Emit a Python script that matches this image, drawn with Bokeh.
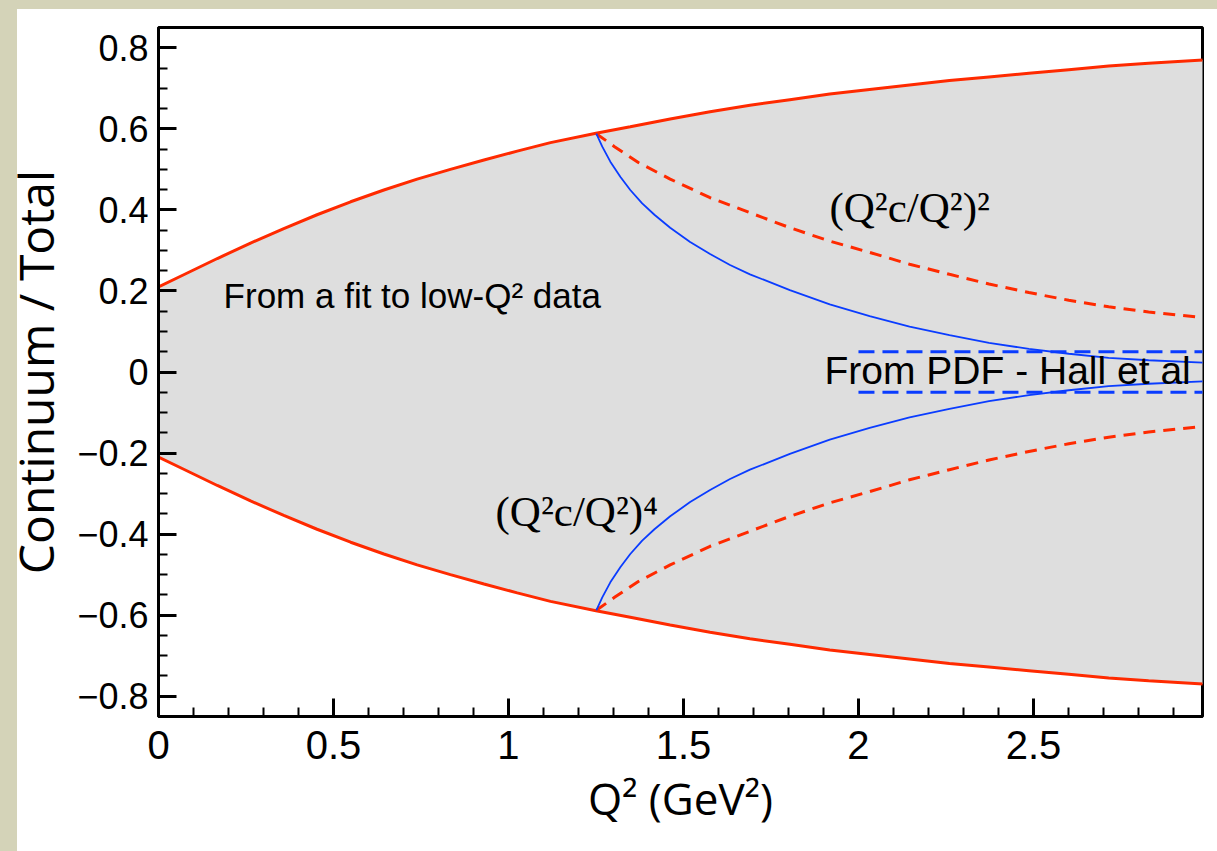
from bokeh.plotting import figure
from bokeh.models import Range1d, FixedTicker, Label
from bokeh.embed import file_html
from bokeh.resources import INLINE

# ---- data -------------------------------------------------------------
# band from a fit to low-Q^2 data (upper / lower envelope)
fit_q2 = [0.0, 0.072, 0.168, 0.263, 0.358, 0.453, 0.549, 0.644, 0.739, 0.834,
          0.930, 1.025, 1.120, 1.250, 1.348, 1.462, 1.576, 1.690, 1.804, 1.918,
          2.032, 2.146, 2.260, 2.373, 2.487, 2.601, 2.715, 2.829, 2.985]
fit_upper = [0.210, 0.240, 0.280, 0.318, 0.354, 0.388, 0.420, 0.449, 0.476, 0.500,
             0.523, 0.545, 0.566, 0.589, 0.605, 0.624, 0.642, 0.658, 0.672, 0.686,
             0.697, 0.708, 0.719, 0.728, 0.737, 0.746, 0.755, 0.762, 0.770]
fit_lower = [-0.210, -0.240, -0.280, -0.318, -0.354, -0.388, -0.420, -0.449, -0.476, -0.500,
             -0.523, -0.545, -0.566, -0.589, -0.605, -0.624, -0.642, -0.658, -0.672, -0.686,
             -0.697, -0.708, -0.719, -0.728, -0.737, -0.746, -0.755, -0.762, -0.770]

# (Q2c/Q2)^2 fall-off (red dashed)
pow2_q2 = [1.251, 1.303, 1.371, 1.462, 1.576, 1.690, 1.804, 1.918, 2.032, 2.146,
           2.260, 2.373, 2.487, 2.601, 2.715, 2.829, 2.985]
pow2_upper = [0.588, 0.556, 0.517, 0.476, 0.430, 0.393, 0.356, 0.323, 0.295, 0.266,
              0.241, 0.217, 0.196, 0.177, 0.161, 0.148, 0.134]
pow2_lower = [-0.588, -0.556, -0.517, -0.476, -0.430, -0.393, -0.356, -0.323, -0.295, -0.266,
              -0.241, -0.217, -0.196, -0.177, -0.161, -0.148, -0.134]

# (Q2c/Q2)^4 fall-off (blue solid)
pow4_q2 = [1.251, 1.268, 1.291, 1.320, 1.348, 1.382, 1.417, 1.462, 1.519, 1.576,
           1.633, 1.690, 1.804, 1.918, 2.032, 2.146, 2.260, 2.373, 2.487, 2.601,
           2.715, 2.829, 2.985]
pow4_upper = [0.588, 0.556, 0.519, 0.481, 0.449, 0.416, 0.388, 0.356, 0.321, 0.291,
              0.264, 0.241, 0.202, 0.167, 0.138, 0.112, 0.091, 0.072, 0.057, 0.045,
              0.035, 0.029, 0.023]
pow4_lower = [-0.588, -0.556, -0.519, -0.481, -0.449, -0.416, -0.388, -0.356, -0.321, -0.291,
              -0.264, -0.241, -0.202, -0.167, -0.138, -0.112, -0.091, -0.072, -0.057, -0.045,
              -0.035, -0.029, -0.023]

# from PDF - Hall et al (blue dashed band)
pdf_q2 = [2.0, 2.985]
pdf_upper = [0.05, 0.05]
pdf_lower = [-0.05, -0.05]

x_ticks = [0, 0.5, 1, 1.5, 2, 2.5]
x_labels = ["0", "0.5", "1", "1.5", "2", "2.5"]
y_ticks = [-0.8, -0.6, -0.4, -0.2, 0, 0.2, 0.4, 0.6, 0.8]
y_labels = ["\u22120.8", "\u22120.6", "\u22120.4", "\u22120.2", "0", "0.2", "0.4", "0.6", "0.8"]

# ---- styling -------------------------------------------------------------
RED = "#ff2a00"
BLUE = "#0a3cff"
BAND = "#dedede"
PAPER = "#d4d3b8"

p = figure(width=1217, height=851,
           x_range=Range1d(0, 2.983), y_range=Range1d(-0.85, 0.85),
           output_backend="svg", toolbar_location=None,
           min_border_left=158, min_border_top=27, min_border_right=15,
           min_border_bottom=135)
p.border_fill_color = None
p.background_fill_color = "white"
p.outline_line_color = "black"
p.outline_line_width = 3
p.xgrid.visible = False
p.ygrid.visible = False

p.varea(x=fit_q2, y1=fit_lower, y2=fit_upper, fill_color=BAND)

p.line(fit_q2, fit_upper, line_color=RED, line_width=3)
p.line(fit_q2, fit_lower, line_color=RED, line_width=3)
p.line(pow2_q2, pow2_upper, line_color=RED, line_width=3, line_dash="12 8")
p.line(pow2_q2, pow2_lower, line_color=RED, line_width=3, line_dash="12 8")
p.line(pow4_q2, pow4_upper, line_color=BLUE, line_width=1.8)
p.line(pow4_q2, pow4_lower, line_color=BLUE, line_width=1.8)
p.line(pdf_q2, pdf_upper, line_color=BLUE, line_width=3, line_dash="16 8")
p.line(pdf_q2, pdf_lower, line_color=BLUE, line_width=3, line_dash="16 8")

# axes
minor_x = [i / 10 for i in range(0, 30)]
minor_y = [round(-0.85 + i * 0.05, 2) for i in range(0, 35)]
p.xaxis.ticker = FixedTicker(ticks=x_ticks, minor_ticks=minor_x)
p.yaxis.ticker = FixedTicker(ticks=y_ticks, minor_ticks=minor_y)
p.xaxis.major_label_overrides = dict(zip(x_ticks, x_labels))
p.yaxis.major_label_overrides = dict(zip(y_ticks, y_labels))

for ax in (p.xaxis, p.yaxis):
    ax.axis_line_width = 3
    ax.axis_line_color = "black"
    ax.major_tick_in = 18
    ax.major_tick_out = 0
    ax.minor_tick_in = 9
    ax.minor_tick_out = 0
    ax.major_tick_line_width = 3
    ax.minor_tick_line_width = 2
    ax.major_label_text_font = "Liberation Sans"
    ax.major_label_text_color = "black"
    ax.axis_label_text_font = "Open Sans"
    ax.axis_label_text_font_style = "normal"
    ax.axis_label_text_color = "black"

p.xaxis.major_label_text_font_size = "40px"
p.yaxis.major_label_text_font_size = "36px"
p.xaxis.major_label_standoff = 14
p.yaxis.major_label_standoff = 10

p.xaxis.axis_label = "Q\u00b2 (GeV\u00b2)"
p.xaxis.axis_label_text_font_size = "44px"
p.xaxis.axis_label_standoff = 6
p.yaxis.axis_label = "Continuum / Total"
p.yaxis.axis_label_text_font_size = "48px"
p.yaxis.axis_label_standoff = 6

# annotations
p.add_layout(Label(x=0.186, y=0.188, text="From a fit to low-Q\u00b2 data",
                   text_font="Liberation Sans", text_font_size="35px",
                   text_color="black", text_baseline="middle"))
p.add_layout(Label(x=1.903, y=0.004, text="From PDF - Hall et al",
                   text_font="Liberation Sans", text_font_size="39px",
                   text_color="black", text_baseline="middle"))
p.add_layout(Label(x=1.917, y=0.405, text="(Q\u00b2c/Q\u00b2)\u00b2",
                   text_font="Liberation Serif", text_font_size="43px",
                   text_color="black", text_baseline="middle"))
p.add_layout(Label(x=0.963, y=-0.345, text="(Q\u00b2c/Q\u00b2)\u2074",
                   text_font="Liberation Serif", text_font_size="43px",
                   text_color="black", text_baseline="middle"))

html = file_html(p, INLINE, title="Continuum / Total")
style = ("<style>html{background-color:#ffffff;background-repeat:no-repeat;"
         "background-image:linear-gradient(to right, %s 17px, rgba(255,255,255,0) 17px),"
         "linear-gradient(to bottom, %s 9px, #ffffff 9px);}</style>" % (PAPER, PAPER))
html = html.replace("</head>", style + "</head>", 1)
open("out.html", "w").write(html)
